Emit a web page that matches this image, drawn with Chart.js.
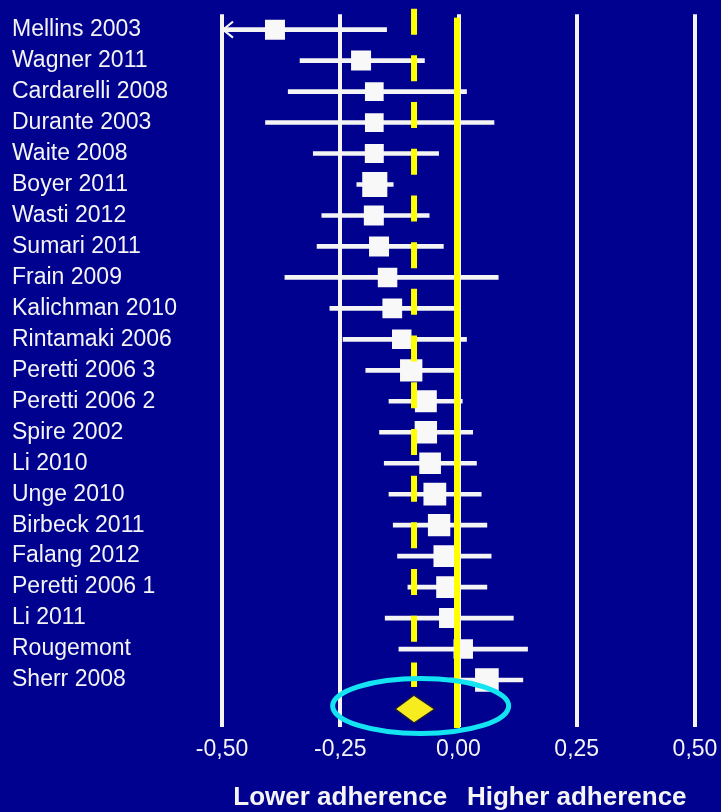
<!DOCTYPE html>
<html>
<head>
<meta charset="utf-8">
<title>Forest plot</title>
<script src="https://cdn.jsdelivr.net/npm/chart.js@4.4.1/dist/chart.umd.min.js"></script>
<style>
  html, body { margin: 0; padding: 0; background: #01018f; }
  #wrap { width: 721px; height: 812px; }
</style>
</head>
<body>
<div id="wrap"><canvas id="forest" width="721" height="812"></canvas></div>
<script>
// studies, top to bottom
const studies = [
  'Mellins 2003', 'Wagner 2011', 'Cardarelli 2008', 'Durante 2003', 'Waite 2008',
  'Boyer 2011', 'Wasti 2012', 'Sumari 2011', 'Frain 2009', 'Kalichman 2010',
  'Rintamaki 2006', 'Peretti 2006 3', 'Peretti 2006 2', 'Spire 2002', 'Li 2010',
  'Unge 2010', 'Birbeck 2011', 'Falang 2012', 'Peretti 2006 1', 'Li 2011',
  'Rougemont', 'Sherr 2008'
];
const estimates = [
  -0.388, -0.206, -0.178, -0.178, -0.178,
  -0.177, -0.179, -0.168, -0.150, -0.140,
  -0.120, -0.100, -0.069, -0.069, -0.060,
  -0.050, -0.041, -0.030, -0.024, -0.020,
  0.010, 0.060
];
const lowerCI = [
  -0.620, -0.335, -0.360, -0.408, -0.307,
  -0.215, -0.289, -0.299, -0.367, -0.272,
  -0.244, -0.196, -0.147, -0.167, -0.157,
  -0.147, -0.138, -0.129, -0.107, -0.155,
  -0.126, -0.018
];
const upperCI = [
  -0.152, -0.072, 0.017, 0.075, -0.042,
  -0.138, -0.062, -0.032, 0.084, -0.007,
  0.017, -0.007, 0.008, 0.030, 0.038,
  0.048, 0.060, 0.069, 0.060, 0.116,
  0.146, 0.136
];
// relative study weights (%), shown as box size
const weights = [
  4.0, 4.0, 3.5, 3.5, 3.6,
  6.3, 4.0, 4.0, 3.8, 3.9,
  3.8, 5.0, 4.8, 5.0, 4.7,
  5.2, 5.0, 4.7, 4.8, 4.0,
  3.8, 5.6
];
const pooledEstimate = -0.094;
const pooledCI = [-0.134, -0.050];
const tickValues = [-0.5, -0.25, 0, 0.25, 0.5];
const directionLabels = ['Lower adherence', 'Higher adherence'];

// one extra empty row at the bottom for the pooled diamond
const rows = studies.concat(['']);
const ciBars = studies.map((s, i) => [lowerCI[i], upperCI[i]]).concat([null]);
const boxes = estimates.concat([null]);
const boxRadius = weights.concat([0]).map(w => 10 * Math.sqrt(w) / Math.SQRT2);

const WHITE = '#f4f4f4';
const YELLOW = '#ffff00';

Chart.defaults.font.family = '"Liberation Sans", Arial, sans-serif';

const forestExtras = {
  id: 'forestExtras',
  afterDatasetsDraw(chart) {
    const { ctx, chartArea } = chart;
    const x = chart.scales.x;
    const y = chart.scales.y;
    const lastStudyY = y.getPixelForValue(studies.length - 1);
    const pooledY = y.getPixelForValue(studies.length);

    ctx.save();

    // arrow for intervals running past the left edge
    ctx.strokeStyle = WHITE;
    ctx.lineWidth = 2;
    lowerCI.forEach((lo, i) => {
      if (lo >= x.min) return;
      const py = y.getPixelForValue(i);
      ctx.beginPath();
      ctx.moveTo(chartArea.left + 11, py - 8);
      ctx.lineTo(chartArea.left + 1, py);
      ctx.lineTo(chartArea.left + 11, py + 8);
      ctx.stroke();
    });

    // line of no effect
    const x0 = x.getPixelForValue(0) - 1.5;
    ctx.fillStyle = YELLOW;
    ctx.fillRect(x0 - 3, chartArea.top + 3.5, 6, chartArea.bottom - chartArea.top - 2);

    // pooled estimate, dashed
    const xp = x.getPixelForValue(pooledEstimate);
    ctx.strokeStyle = YELLOW;
    ctx.lineWidth = 6;
    ctx.setLineDash([26, 20.7]);
    ctx.beginPath();
    ctx.moveTo(xp, chartArea.top - 5.5);
    ctx.lineTo(xp, lastStudyY + 7);
    ctx.stroke();
    ctx.setLineDash([]);

    // pooled diamond
    const xl = x.getPixelForValue(pooledCI[0]);
    const xh = x.getPixelForValue(pooledCI[1]);
    ctx.beginPath();
    ctx.moveTo(xl, pooledY - 2);
    ctx.lineTo(xp, pooledY - 16);
    ctx.lineTo(xh, pooledY - 2);
    ctx.lineTo(xp, pooledY + 12);
    ctx.closePath();
    ctx.fillStyle = '#f6ec1e';
    ctx.fill();
    ctx.strokeStyle = '#1a1a40';
    ctx.lineWidth = 1.5;
    ctx.stroke();

    // highlight ring around the pooled result
    ctx.beginPath();
    ctx.ellipse(x.getPixelForValue(-0.08), pooledY - 5, 88, 27.5, 0, 0, Math.PI * 2);
    ctx.strokeStyle = '#14e4f2';
    ctx.lineWidth = 5;
    ctx.stroke();

    ctx.restore();
  },
  afterDraw(chart) {
    const { ctx } = chart;
    const x = chart.scales.x;
    ctx.save();
    ctx.fillStyle = WHITE;
    ctx.font = 'bold 26px "Liberation Sans", Arial, sans-serif';
    ctx.textAlign = 'center';
    ctx.textBaseline = 'alphabetic';
    ctx.fillText(directionLabels[0], x.getPixelForValue(-0.25), 805);
    ctx.fillText(directionLabels[1], x.getPixelForValue(0.25), 805);
    ctx.restore();
  }
};

new Chart(document.getElementById('forest'), {
  type: 'bar',
  data: {
    labels: rows,
    datasets: [
      {
        type: 'bar',
        data: ciBars,
        backgroundColor: WHITE,
        borderWidth: 0,
        barThickness: 4,
        order: 2
      },
      {
        type: 'line',
        indexAxis: 'y',
        data: boxes,
        showLine: false,
        pointStyle: 'rect',
        pointRadius: boxRadius,
        pointBackgroundColor: '#f8f8f8',
        pointBorderWidth: 0,
        order: 1
      }
    ]
  },
  options: {
    indexAxis: 'y',
    responsive: false,
    animation: false,
    events: [],
    layout: { padding: { top: 11.5, left: 12, right: 26, bottom: 0 } },
    plugins: {
      legend: { display: false },
      tooltip: { enabled: false }
    },
    scales: {
      x: {
        type: 'linear',
        min: -0.5,
        max: 0.5,
        afterBuildTicks: (scale) => { scale.ticks = tickValues.map(v => ({ value: v })); },
        afterFit: (scale) => {
          scale.height = 85.5;
          scale.paddingLeft = 0;
          scale.paddingRight = 0;
        },
        border: { display: false },
        grid: { color: WHITE, lineWidth: 4, drawTicks: false },
        ticks: {
          color: WHITE,
          font: { size: 23 },
          padding: 9,
          maxRotation: 0,
          callback: (v) => v.toFixed(2).replace('.', ',')
        }
      },
      y: {
        type: 'category',
        offset: true,
        afterFit: (scale) => {
          scale.width = 210;
          scale.paddingTop = 0;
          scale.paddingBottom = 0;
        },
        border: { display: false },
        grid: { display: false },
        ticks: {
          color: WHITE,
          font: { size: 23 },
          crossAlign: 'far',
          autoSkip: false
        }
      }
    }
  },
  plugins: [forestExtras]
});
</script>
</body>
</html>
